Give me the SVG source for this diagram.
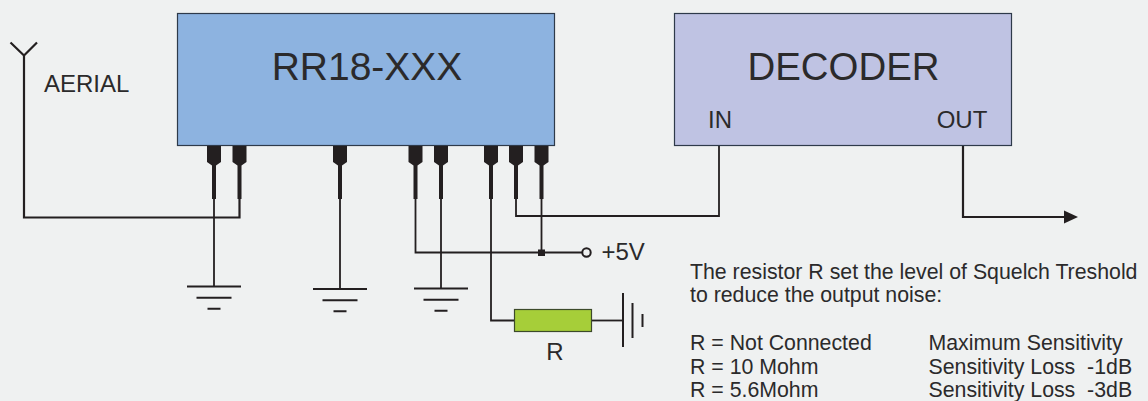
<svg xmlns="http://www.w3.org/2000/svg" width="1148" height="401" viewBox="0 0 1148 401">
<style>
text{font-family:"Liberation Sans",Arial,sans-serif;fill:#2b2a2b}
.w{fill:none;stroke:#231f20;stroke-width:1.8}
.a{stroke-width:2.200}
.g{fill:none;stroke:#231f20;stroke-width:2}
.box{stroke:#2e3a4a;stroke-width:1.2}
.p{fill:#231f20}
.t{font-size:21.3px;white-space:pre}
.m{font-size:24px}
</style>
<defs>
<path id="pin" class="p" d="M-7 146H7V162L2 165.500V199H-2V165.500L-7 162Z"/>
<g id="gnd"><path class="g" d="M-27 0H27M-17.500 11.300H17.500M-6.500 22.300H6.500"/></g>
</defs>
<rect width="1148" height="401" fill="#eff1f1"/>
<g id="connectors">
<path class="w a" d="M10.500 42.500L24 55.500L37 42.500M24 55.500V217.500H239.500V199"/>
<path class="w" d="M214 199V286"/>
<path class="w" d="M340 199V289"/>
<path class="w" d="M441 199V288"/>
<path class="w" d="M415.500 199V252.500H582"/>
<path class="w" d="M541.500 199V252.500"/>
<path class="w" d="M491 199V320.500H514"/>
<path class="w" d="M516 199V216H719V146"/>
<path class="w a" d="M963 146V217H1066"/>
<path class="w" d="M591 320.500H623"/>
<path class="p" d="M1064 210.500L1078 217L1064 223.500Z"/>
<rect class="p" x="538" y="249.500" width="7" height="6.500"/>
<circle cx="586.500" cy="252.500" r="4.200" fill="none" stroke="#231f20" stroke-width="2"/>
</g>
<g id="rr18">
<rect class="box" x="177.500" y="13.500" width="377" height="132" fill="#8db3e0"/>
<text x="367" y="80" font-size="39" text-anchor="middle">RR18-XXX</text>
<use href="#pin" x="214"/><use href="#pin" x="239.500"/><use href="#pin" x="340"/><use href="#pin" x="415.500"/><use href="#pin" x="441"/><use href="#pin" x="491"/><use href="#pin" x="516"/><use href="#pin" x="541.500"/>
</g>
<g id="decoder">
<rect class="box" x="674.500" y="13.500" width="337" height="132" fill="#bfc3e3"/>
<text x="843.500" y="80" font-size="38.400" text-anchor="middle">DECODER</text>
<text class="m" x="720" y="128" text-anchor="middle">IN</text>
<text class="m" x="962" y="128" text-anchor="middle">OUT</text>
</g>
<g id="aerial"><text class="m" x="44" y="92">AERIAL</text></g>
<use id="ground1" href="#gnd" x="214" y="286.500"/>
<use id="ground2" href="#gnd" x="340" y="289"/>
<use id="ground3" href="#gnd" x="441" y="288.500"/>
<g id="resistor">
<rect x="514.500" y="309.500" width="77" height="22" fill="#a6ce39" stroke="#3c4a2a" stroke-width="1.2"/>
<text class="m" x="555" y="360" text-anchor="middle">R</text>
</g>
<g id="ground4"><path class="g" d="M623 293V347M632.500 303V338M642.500 314V327"/></g>
<g id="vcc"><text class="m" x="601.500" y="260">+5V</text></g>
<g id="notes">
<text class="t" x="690" y="279">The resistor R set the level of Squelch Treshold</text>
<text class="t" x="690" y="302">to reduce the output noise:</text>
<text class="t" x="690" y="350">R = Not Connected</text>
<text class="t" x="690" y="373.500">R = 10 Mohm</text>
<text class="t" x="690" y="397">R = 5.6Mohm</text>
<text class="t" x="928.500" y="350">Maximum Sensitivity</text>
<text class="t" x="928.500" y="373.500">Sensitivity Loss  -1dB</text>
<text class="t" x="928.500" y="397">Sensitivity Loss  -3dB</text>
</g>
</svg>
